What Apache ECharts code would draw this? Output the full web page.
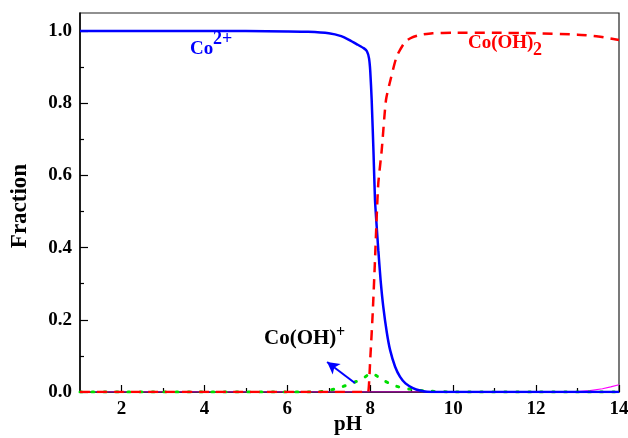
<!DOCTYPE html>
<html>
<head>
<meta charset="utf-8">
<script src="https://cdn.jsdelivr.net/npm/echarts@6/dist/echarts.min.js"></script>
<style>
  html, body { margin: 0; padding: 0; background: #fff; }
  #chart { width: 628px; height: 438px; }
</style>
</head>
<body>
<div id="chart"></div>
<script>
// Co2+
var phCo = [1, 2, 3, 4, 5, 6, 6.5, 7, 7.3, 7.5, 7.7, 7.85, 7.92, 7.97, 8.0, 8.035, 8.08, 8.115, 8.155, 8.195, 8.25, 8.315, 8.4, 8.48, 8.6, 8.72, 8.85, 9.03, 9.2, 9.37, 10, 11, 12, 13, 14];
var fracCo = [1, 1, 1, 1, 1, 0.999, 0.998, 0.994, 0.986, 0.975, 0.962, 0.952, 0.944, 0.925, 0.89, 0.809, 0.66, 0.532, 0.46, 0.393, 0.31, 0.236, 0.165, 0.116, 0.07, 0.042, 0.024, 0.011, 0.004, 0.001, 0, 0, 0, 0, 0];
// Co(OH)2
var phCoOH2 = [1, 2, 3, 4, 5, 6, 7, 7.9, 7.95, 8.0, 8.06, 8.115, 8.156, 8.195, 8.277, 8.38, 8.5, 8.64, 8.84, 9.0, 9.2, 9.5, 10, 11, 12, 13, 13.5, 14];
var fracCoOH2 = [0, 0, 0, 0, 0, 0, 0, 0, 0, 0.09, 0.219, 0.366, 0.486, 0.579, 0.67, 0.809, 0.87, 0.93, 0.97, 0.982, 0.989, 0.994, 0.995, 0.995, 0.994, 0.99, 0.985, 0.975];
// Co(OH)+
var phCoOH = [1, 2, 3, 4, 5, 6, 6.5, 6.8, 7.03, 7.31, 7.6, 7.83, 8.03, 8.15, 8.31, 8.6, 8.96, 9.35, 10, 11, 12, 13, 14];
var fracCoOH = [0, 0, 0, 0, 0, 0, 0, 0.001, 0.005, 0.014, 0.026, 0.038, 0.052, 0.045, 0.033, 0.017, 0.008, 0.003, 0, 0, 0, 0, 0];
// Co(OH)3-
var phCoOH3 = [1, 4, 8, 12, 12.9, 13, 13.3, 13.6, 13.8, 14];
var fracCoOH3 = [0, 0, 0, 0, 0, 0.001, 0.004, 0.009, 0.014, 0.02];

var xLabels = [2, 4, 6, 8, 10, 12, 14];
var xMinor = [3, 5, 7, 9, 11, 13];
var yLabels = [0, 0.2, 0.4, 0.6, 0.8, 1.0];
var yMinor = [0.1, 0.3, 0.5, 0.7, 0.9];

function pairs(xs, ys) {
    return xs.map(function (x, i) { return [x, ys[i]]; });
}

var font = 'Liberation Serif';
var chart = echarts.init(document.getElementById('chart'));

var baseX = {
    type: 'value', min: 1, max: 14, position: 'bottom',
    splitLine: { show: false }
};
var baseY = {
    type: 'value', min: 0, max: 1.05, position: 'left',
    splitLine: { show: false }
};

chart.setOption({
    animation: false,
    grid: { left: 80, right: 9, top: 13, bottom: 46, outerBoundsMode: 'none', containLabel: false,
        show: true, borderColor: '#222', borderWidth: 1.2 },
    xAxis: [
        Object.assign({}, baseX, {
            axisLine: { lineStyle: { color: '#000', width: 1.5 } },
            axisTick: { inside: true, length: 7, customValues: xLabels, lineStyle: { color: '#000', width: 1.2 } },
            axisLabel: { customValues: xLabels, margin: 8, fontFamily: font, fontWeight: 'bold', fontSize: 19, color: '#000' }
        }),
        Object.assign({}, baseX, {
            axisLine: { show: false },
            axisTick: { inside: true, length: 4, customValues: xMinor, lineStyle: { color: '#000', width: 1.2 } },
            axisLabel: { show: false }
        })
    ],
    yAxis: [
        Object.assign({}, baseY, {
            axisLine: { lineStyle: { color: '#000', width: 1.5 } },
            axisTick: { inside: true, length: 8, customValues: yLabels, lineStyle: { color: '#000', width: 1.2 } },
            axisLabel: { customValues: yLabels, margin: 8, fontFamily: font, fontWeight: 'bold', fontSize: 19, color: '#000',
                formatter: function (v) { return v.toFixed(1); } }
        }),
        Object.assign({}, baseY, {
            axisLine: { show: false },
            axisTick: { inside: true, length: 4, customValues: yMinor, lineStyle: { color: '#000', width: 1.2 } },
            axisLabel: { show: false }
        })
    ],
    graphic: [
        { type: 'text', x: 20, y: 206, rotation: Math.PI / 2,
          style: { text: 'Fraction', align: 'center', verticalAlign: 'middle', fontFamily: font, fontWeight: 'bold', fontSize: 23, fill: '#000' } },
        { type: 'text', x: 348, y: 425,
          style: { text: 'pH', align: 'center', verticalAlign: 'middle', fontFamily: font, fontWeight: 'bold', fontSize: 21, fill: '#000' } },
        { type: 'text', x: 190, y: 49,
          style: { text: 'Co', verticalAlign: 'middle', fontFamily: font, fontWeight: 'bold', fontSize: 19, fill: '#0000ff' } },
        { type: 'text', x: 213, y: 39,
          style: { text: '2+', verticalAlign: 'middle', fontFamily: font, fontWeight: 'bold', fontSize: 18, fill: '#0000ff' } },
        { type: 'text', x: 468, y: 43,
          style: { text: 'Co(OH)', verticalAlign: 'middle', fontFamily: font, fontWeight: 'bold', fontSize: 19, fill: '#ff0000' } },
        { type: 'text', x: 533, y: 50,
          style: { text: '2', verticalAlign: 'middle', fontFamily: font, fontWeight: 'bold', fontSize: 18, fill: '#ff0000' } },
        { type: 'text', x: 264, y: 339,
          style: { text: 'Co(OH)', verticalAlign: 'middle', fontFamily: font, fontWeight: 'bold', fontSize: 21, fill: '#000' } },
        { type: 'text', x: 336, y: 333,
          style: { text: '+', verticalAlign: 'middle', fontFamily: font, fontWeight: 'bold', fontSize: 16, fill: '#000' } }
    ],
    series: [
        {
            name: 'Co(OH)3-', type: 'line', data: pairs(phCoOH3, fracCoOH3), showSymbol: false,
            lineStyle: { color: '#ff00ff', width: 1.2 }, z: 2
        },
        {
            name: 'Co(OH)+', type: 'line', data: pairs(phCoOH, fracCoOH), showSymbol: false, smooth: 0.3,
            lineStyle: { color: '#00dd00', width: 3, type: [2, 10], cap: 'round' }, z: 3,
            markLine: {
                silent: true, symbol: ['none', 'arrow'], symbolSize: [10, 12],
                lineStyle: { color: '#0000ff', width: 2, type: 'solid' },
                label: { show: false },
                data: [[{ coord: [7.63, 0.025] }, { coord: [6.96, 0.083] }]]
            }
        },
        {
            name: 'Co2+', type: 'line', data: pairs(phCo, fracCo), showSymbol: false, smooth: 0.2,
            lineStyle: { color: '#0000ff', width: 2.5 }, z: 4
        },
        {
            name: 'Co(OH)2', type: 'line', data: pairs(phCoOH2, fracCoOH2), showSymbol: false, smooth: 0.2,
            lineStyle: { color: '#ff0000', width: 2.5, type: [10, 7] }, z: 5
        }
    ]
});
</script>
</body>
</html>
